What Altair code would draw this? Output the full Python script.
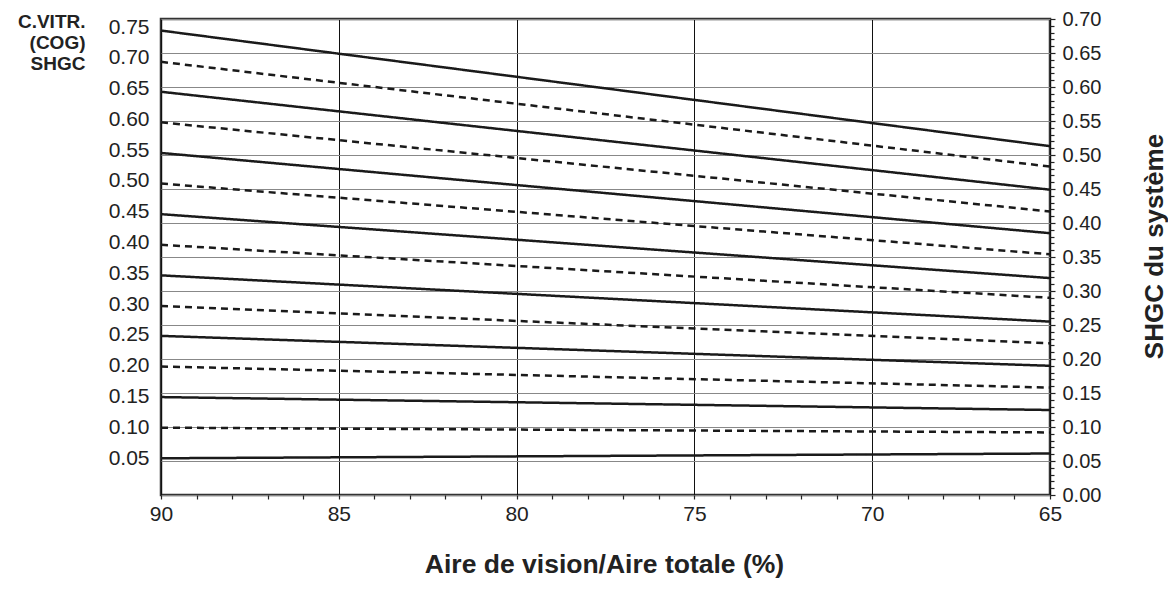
import altair as alt
import pandas as pd

# COG (centre-of-glass) SHGC values labelled on the left axis
cog = [0.75, 0.70, 0.65, 0.60, 0.55, 0.50, 0.45, 0.40, 0.35, 0.30, 0.25, 0.20, 0.15, 0.10, 0.05]
style = ["solid", "dashed", "solid", "dashed", "solid", "dashed", "solid", "dashed",
         "solid", "dashed", "solid", "dashed", "solid", "dashed", "solid"]
# System SHGC (right axis units) read at 90 % and 65 % vision area
sys_at_90 = [0.683, 0.637, 0.593, 0.548, 0.503, 0.458, 0.413, 0.368, 0.323, 0.278, 0.234, 0.189, 0.144, 0.099, 0.054]
sys_at_65 = [0.513, 0.483, 0.449, 0.417, 0.385, 0.354, 0.319, 0.290, 0.255, 0.223, 0.190, 0.158, 0.125, 0.092, 0.061]
x_start, x_end = 90, 65

x_ticks = list(range(65, 91))
right_ticks = [round(i * 0.01, 2) for i in range(71)]

rows = []
for c, s, a, b in zip(cog, style, sys_at_90, sys_at_65):
    rows.append({"cog": c, "style": s, "x": x_start, "y": a})
    rows.append({"cog": c, "style": s, "x": x_end, "y": b})
lines_df = pd.DataFrame(rows)
left_df = pd.DataFrame({"cog": cog, "x": [x_start] * len(cog)})

FONT = "Liberation Sans"
INK = "#222222"

x_enc = alt.X(
    "x:Q",
    scale=alt.Scale(domain=[65, 90], reverse=True, nice=False, zero=False),
    axis=alt.Axis(
        values=x_ticks,
        labelExpr="datum.value % 5 === 0 ? datum.label : ''",
        labelOverlap=False,
        labelFlush=False,
        labelFontSize=21,
        labelPadding=4,
        tickSize=4,
        tickWidth=1.2,
        tickColor=INK,
        domain=False,
        grid=True,
        gridColor="#111111",
        gridWidth=1,
        gridOpacity={"condition": {"test": "datum.value % 5 === 0", "value": 1}, "value": 0},
        title="Aire de vision/Aire totale (%)",
        titleFontSize=26.5,
        titleFontWeight="bold",
        titleBaseline="alphabetic",
        titleAlign="center",
        titleX=443,
        titleY=77,
    ),
)

lines = alt.Chart(lines_df).mark_line(color="#1a1a1a", strokeWidth=2.5).encode(
    x=x_enc,
    y=alt.Y(
        "y:Q",
        scale=alt.Scale(domain=[0, 0.70], nice=False, zero=False),
        axis=alt.Axis(
            orient="right",
            values=right_ticks,
            labelExpr="round(datum.value*100) % 5 === 0 ? format(datum.value, '.2f') : ''",
            labelOverlap=False,
            labelFontSize=20,
            labelPadding=7,
            tickSize={"condition": {"test": "round(datum.value*100) % 5 === 0", "value": 5}, "value": 4},
            tickWidth=1.2,
            tickColor=INK,
            domain=False,
            grid=True,
            gridColor="#888888",
            gridWidth=1,
            gridOpacity={"condition": {"test": "round(datum.value*100) % 5 === 0", "value": 1}, "value": 0},
            title="SHGC du système",
            titleFontSize=26,
            titleFontWeight="bold",
            titleAngle=270,
            titleAlign="center",
            titleBaseline="alphabetic",
            titleX=112,
            titleY=227,
        ),
    ),
    detail="cog:N",
    strokeDash=alt.StrokeDash(
        "style:N",
        scale=alt.Scale(domain=["solid", "dashed"], range=[[1, 0], [7, 5]]),
        legend=None,
    ),
)

left = alt.Chart(left_df).mark_point(opacity=0).encode(
    x=x_enc,
    y=alt.Y(
        "cog:Q",
        scale=alt.Scale(domain=[-0.010, 0.763], nice=False, zero=False),
        axis=alt.Axis(
            orient="left",
            values=cog,
            format=".2f",
            ticks=False,
            domain=False,
            grid=False,
            labelFontSize=21,
            labelPadding=12,
            labelOverlap=False,
            title=["C.VITR.", "(COG)", "SHGC"],
            titleFontSize=19,
            titleFontWeight="bold",
            titleAngle=0,
            titleAlign="right",
            titleBaseline="alphabetic",
            titleLineHeight=21,
            titleX=-76,
            titleY=8,
        ),
    ),
)

chart = (
    alt.layer(left, lines)
    .resolve_scale(y="independent")
    .properties(
        width=889,
        height=476,
        autosize=alt.AutoSizeParams(type="none"),
        padding={"left": 153, "top": 11, "right": 118, "bottom": 87},
    )
    .configure(font=FONT)
    .configure_axis(labelColor=INK, titleColor=INK, labelFont=FONT, titleFont=FONT)
    .configure_view(stroke="#333333", strokeWidth=2.5)
)

chart.save("out.html", embed_options={"renderer": "svg", "actions": False})
